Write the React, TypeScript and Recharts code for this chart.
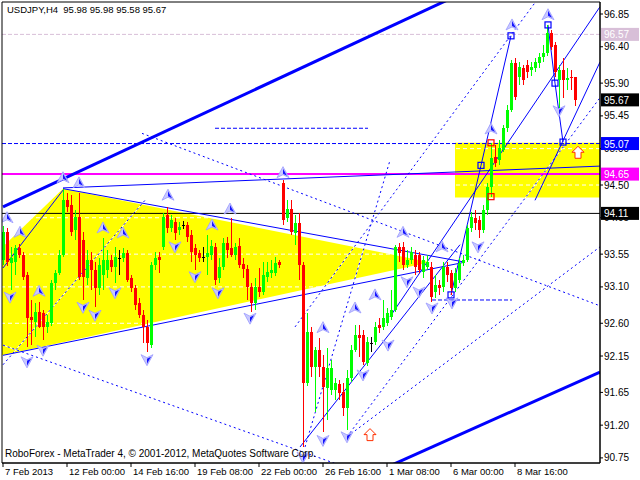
import React from "react";
import {
  ComposedChart,
  Bar,
  Area,
  Scatter,
  XAxis,
  YAxis,
  ReferenceLine,
  ReferenceArea
} from "recharts";

// H4 candles, 7 Feb - 11 Mar 2013
const opens = [
  93.47, 93.85, 93.43, 93.44, 93.63, 93.54, 93.26, 92.69, 92.62, 92.76,
  92.74, 92.55, 92.6, 93.15, 93.29, 93.54, 94.29, 94.23, 93.88, 94.06,
  93.74, 93.22, 93.47, 93.33, 93.09, 93.26, 93.33, 93.47, 93.38, 93.5,
  93.5, 93.57, 93.22, 93.09, 92.88, 92.72, 92.55, 92.3, 93.4, 93.51,
  93.65, 94.09, 93.91, 93.99, 93.88, 93.95, 93.95, 93.81, 93.63, 93.57,
  93.51, 93.51, 93.54, 93.65, 93.22, 93.38, 93.7, 93.63, 93.54, 93.66,
  93.42, 93.35, 93.1, 92.88, 93.1, 93.03, 93.24, 93.29, 93.29, 93.44,
  94.53, 94.05, 94.17, 93.84, 93.98, 93.4, 91.78, 92.48, 92.0, 92.23,
  92.0, 91.71, 91.68, 91.68, 91.77, 91.66, 91.44, 91.85, 92.23, 92.44,
  92.44, 92.06, 92.33, 92.34, 92.58, 92.55, 92.6, 92.69, 92.78, 93.65,
  93.65, 93.4, 93.47, 93.54, 93.54, 93.31, 93.38, 93.38, 93.03, 93.13,
  93.1, 93.38, 93.29, 93.09, 93.19, 93.43, 93.47, 93.91, 94.05, 94.02,
  93.88, 94.16, 94.47, 94.89, 94.84, 94.98, 95.28, 95.53, 96.18, 95.98,
  96.11, 96.15, 96.08, 96.11, 96.18, 96.26, 96.31, 96.59, 96.42, 95.94,
  96.08, 95.94, 95.98, 95.98
];
const highs = [
  93.94, 93.91, 93.65, 93.68, 93.69, 93.58, 93.31, 92.92, 92.88, 92.89,
  92.78, 92.72, 93.19, 93.33, 93.61, 94.45, 94.39, 94.36, 94.16, 94.39,
  93.85, 93.61, 93.58, 93.44, 93.5, 93.77, 93.61, 93.54, 93.65, 93.61,
  93.63, 93.61, 93.26, 93.13, 92.95, 92.78, 92.65, 93.44, 93.58, 93.58,
  94.12, 94.2, 94.09, 94.05, 93.99, 94.01, 93.99, 93.88, 93.69, 93.61,
  93.65, 93.81, 93.74, 93.7, 93.5, 93.77, 93.79, 94.05, 93.7, 93.77,
  93.5, 93.4, 93.15, 93.22, 93.36, 93.44, 93.44, 93.47, 93.51, 93.47,
  94.57, 94.29, 94.29, 94.09, 94.12, 93.44, 92.74, 92.55, 92.27, 92.4,
  92.17, 92.26, 92.1, 91.85, 91.82, 91.78, 91.96, 92.3, 92.58, 92.58,
  92.51, 92.41, 92.41, 92.62, 92.67, 92.92, 92.81, 93.06, 93.68, 93.7,
  93.72, 93.61, 93.65, 93.61, 93.58, 93.53, 93.54, 93.44, 93.26, 93.19,
  93.44, 93.44, 93.33, 93.36, 93.5, 93.54, 93.95, 94.13, 94.16, 94.07,
  94.23, 94.53, 95.08, 95.05, 95.12, 95.32, 95.6, 96.22, 96.25, 96.19,
  96.15, 96.22, 96.19, 96.25, 96.31, 96.42, 96.7, 96.63, 96.47, 96.15,
  96.25, 96.11, 96.08, 95.98
];
const lows = [
  93.4, 93.39, 93.06, 93.26, 93.5, 93.19, 92.27, 92.3, 92.41, 92.54,
  92.37, 92.46, 92.56, 93.06, 93.26, 93.51, 94.13, 93.8, 93.74, 93.19,
  92.92, 93.13, 93.06, 92.82, 92.99, 93.06, 93.22, 93.31, 93.15, 93.26,
  93.44, 93.17, 93.03, 92.78, 92.67, 92.33, 92.21, 92.26, 93.33, 93.29,
  93.61, 93.84, 93.85, 93.74, 93.81, 93.9, 93.72, 93.44, 93.33, 93.44,
  93.44, 93.26, 93.47, 93.13, 93.15, 93.33, 93.5, 93.51, 93.47, 93.36,
  93.22, 92.92, 92.76, 92.78, 92.96, 92.99, 93.17, 93.22, 93.25, 93.36,
  93.95, 93.99, 93.81, 93.68, 93.19, 90.9, 91.74, 91.86, 91.38, 91.86,
  91.11, 91.27, 91.62, 91.55, 91.55, 91.33, 91.13, 91.79, 92.21, 92.14,
  92.03, 92.01, 92.21, 92.3, 92.47, 92.51, 92.56, 92.65, 92.76, 93.44,
  93.33, 93.36, 93.42, 93.26, 93.29, 93.22, 93.33, 92.89, 92.95, 92.99,
  93.03, 93.17, 92.99, 93.03, 93.15, 93.39, 93.44, 93.85, 93.88, 93.77,
  93.84, 94.09, 94.34, 94.75, 94.78, 94.95, 95.23, 95.5, 95.67, 95.87,
  95.87, 95.97, 96.0, 96.05, 96.11, 96.19, 96.27, 96.35, 95.98, 95.56,
  95.7, 95.81, 95.81, 95.58
];
const closes = [
  93.85, 93.44, 93.5, 93.63, 93.54, 93.24, 92.67, 92.65, 92.76, 92.55,
  92.55, 92.62, 93.15, 93.29, 93.54, 94.29, 94.2, 93.85, 94.06, 93.24,
  93.24, 93.47, 93.33, 93.09, 93.4, 93.47, 93.47, 93.38, 93.51, 93.5,
  93.57, 93.19, 93.09, 92.85, 92.72, 92.55, 92.33, 93.4, 93.5, 93.47,
  94.06, 93.91, 94.02, 93.84, 93.92, 93.95, 93.79, 93.58, 93.54, 93.5,
  93.51, 93.57, 93.66, 93.19, 93.38, 93.7, 93.61, 93.54, 93.65, 93.4,
  93.35, 93.1, 92.88, 93.1, 93.03, 93.26, 93.31, 93.33, 93.43, 93.4,
  94.02, 94.17, 93.85, 93.98, 93.4, 91.78, 92.48, 92.0, 92.23, 92.0,
  91.73, 91.99, 91.99, 91.78, 91.64, 91.44, 91.85, 92.23, 92.44, 92.4,
  92.07, 92.34, 92.33, 92.55, 92.54, 92.67, 92.74, 92.78, 93.65, 93.57,
  93.4, 93.47, 93.58, 93.38, 93.33, 93.47, 93.44, 92.96, 93.13, 93.09,
  93.38, 93.26, 93.09, 93.29, 93.43, 93.47, 93.91, 94.06, 93.98, 93.88,
  94.16, 94.47, 94.87, 94.8, 95.01, 95.28, 95.53, 96.18, 95.71, 96.12,
  95.94, 96.05, 96.12, 96.19, 96.26, 96.31, 96.59, 96.4, 96.05, 96.08,
  95.94, 95.97, 95.97, 95.67
];

const xTicks = [0, 16, 32, 48, 64, 80, 96, 112, 128];
const xTickLabels = [
  "7 Feb 2013", "12 Feb 00:00", "14 Feb 16:00", "19 Feb 08:00", "22 Feb 00:00",
  "26 Feb 16:00", "1 Mar 08:00", "6 Mar 00:00", "8 Mar 16:00"
];
const yTicks = [96.85, 96.4, 95.9, 95.45, 95.0, 94.5, 94.05, 93.55, 93.1, 92.6, 92.15, 91.65, 91.2, 90.75];

// horizontal levels drawn on the chart
const levels = [
  { price: 96.57, color: "#d8bfd8", dash: "4 2", width: 1 },
  { price: 95.07, color: "#0000ff", dash: "4 2", width: 1 },
  { price: 94.65, color: "#ff00ff", dash: undefined, width: 2 },
  { price: 94.11, color: "#000000", dash: undefined, width: 1 }
];
const priceTags = [
  { price: 96.57, bg: "#d8bfd8" },
  { price: 95.67, bg: "#000000" },
  { price: 95.07, bg: "#0000ff" },
  { price: 94.65, bg: "#ff00ff" },
  { price: 94.11, bg: "#000000" }
];

// trend lines [t1, p1, t2, p2]
const thickLines = [
  [0, 94.2, 120, 97.27],
  [94.25, 90.58, 149.25, 91.93]
];
const solidLines = [
  [0, 93.36, 15, 94.43],
  [15, 94.45, 115.5, 93.44],
  [0, 92.16, 115.5, 93.44],
  [15, 94.46, 149.25, 94.76],
  [112, 92.99, 119.5, 94.77],
  [119.5, 94.77, 127, 96.55],
  [136.25, 96.7, 138, 95.9],
  [138, 95.9, 140, 95.09],
  [96.75, 92.69, 149.25, 96.95],
  [133, 94.29, 149.25, 96.19],
  [74.25, 90.9, 114.25, 93.68]
];
const dashLines = [
  [53, 95.28, 91.25, 95.28],
  [107.25, 92.92, 127.25, 92.92]
];
const dotLines = [
  [34.75, 95.21, 149.25, 92.84],
  [0, 92.3, 84.25, 90.65],
  [0, 92.03, 35.5, 94.29],
  [86, 91.04, 149.25, 95.7],
  [86, 91.04, 149.25, 93.65],
  [73, 92.55, 135.35, 97.18],
  [75.5, 90.9, 96.75, 94.84]
];

// yellow triangle (left vertex lies off the chart) and rectangle
const triangleT = [-36, 15, 106.75];
const triangleLow = [91.74, 92.34, 93.44];
const triangleHigh = [91.74, 94.45, 93.44];
const boxT = [113, 149.25];
const boxP = [94.33, 95.08];

// fractal arrows and marks [t, p]
const upArrows = [
  [1, 94.05], [4.25, 93.85], [9, 93.04], [15, 94.6], [19, 94.53], [25, 93.91],
  [30, 93.84], [41.25, 94.36], [52.25, 93.95], [56.75, 94.17], [70, 94.67],
  [80, 92.54], [88, 92.81], [93, 92.99], [100, 93.85], [109.75, 93.65],
  [122, 95.27], [127.25, 96.7], [136.25, 96.84]
];
const downArrows = [
  [1.75, 92.96], [6, 92.07], [10, 92.23], [20, 92.82], [23, 92.71], [28, 93.02],
  [36, 92.1], [43, 93.65], [48, 93.24], [53.75, 93.02], [61.75, 92.67],
  [75, 90.76], [80, 90.99], [86, 91.04], [90, 91.89], [96.25, 92.3],
  [101, 93.17], [104, 93.03], [107.25, 92.81], [112.25, 92.88], [118.75, 93.65],
  [139, 95.52]
];
const hollowArrows = [[91.75, 91.07], [143.75, 94.95]];
const blueBoxes = [[112, 92.99], [119.5, 94.77], [127, 96.55], [136.25, 96.7], [138, 95.9], [140, 95.09]];
const redBoxes = [[122, 95.08], [122, 94.34]];

const FONT = "'Liberation Sans', Arial, sans-serif";

const candles = opens.map((o, i) => ({
  t: i,
  o,
  h: highs[i],
  l: lows[i],
  c: closes[i],
  range: [lows[i], highs[i]]
}));
const triangle = triangleT.map((t, i) => ({ t, band: [triangleLow[i], triangleHigh[i]] }));
const toPts = (arr: number[][]) => arr.map(([t, p]) => ({ t, p }));

const Candle = (props: any) => {
  const { x, y, width, height, payload } = props;
  const { o, h, l, c } = payload;
  const top0 = Math.min(y, y + height);
  const hgt = Math.abs(height);
  const span = h - l || 1;
  const yAt = (v: number) => top0 + ((h - v) / span) * hgt;
  const color = c > o ? "#00ff00" : c < o ? "#ff0000" : "#000000";
  const cx = Math.round(x + width / 2);
  const bTop = Math.round(yAt(Math.max(o, c)));
  const bBot = Math.round(yAt(Math.min(o, c)));
  return (
    <g shapeRendering="crispEdges">
      <line x1={cx + 0.5} x2={cx + 0.5} y1={top0} y2={top0 + hgt} stroke={color} />
      <rect x={cx - 1} y={bTop} width={3} height={Math.max(bBot - bTop, 1)} fill={color} />
    </g>
  );
};

// MT4 fractal arrow heads
const UpArrow = ({ cx, cy }: any) => (
  <g>
    <polygon
      points={`${cx},${cy - 6} ${cx + 6},${cy + 5} ${cx},${cy + 2} ${cx - 6},${cy + 5}`}
      fill="#c8c8ff"
      stroke="#9a9aff"
      strokeWidth={0.8}
    />
    <polygon points={`${cx},${cy - 4} ${cx + 4},${cy + 3} ${cx},${cy + 1}`} fill="#1414ff" />
  </g>
);
const DownArrow = ({ cx, cy }: any) => (
  <g>
    <polygon
      points={`${cx},${cy + 6} ${cx + 6},${cy - 5} ${cx},${cy - 2} ${cx - 6},${cy - 5}`}
      fill="#c8c8ff"
      stroke="#9a9aff"
      strokeWidth={0.8}
    />
    <polygon points={`${cx},${cy + 4} ${cx + 4},${cy - 3} ${cx},${cy - 1}`} fill="#1414ff" />
  </g>
);
const HollowArrow = ({ cx, cy }: any) => (
  <polygon
    points={`${cx},${cy - 6} ${cx + 6},${cy} ${cx + 3},${cy} ${cx + 3},${cy + 6} ${cx - 3},${cy + 6} ${cx - 3},${cy} ${cx - 6},${cy}`}
    fill="#ffffff"
    stroke="#ff3000"
    strokeWidth={1}
  />
);
const Box = (color: string) => ({ cx, cy }: any) => (
  <rect x={cx - 3} y={cy - 3} width={6} height={6} fill="none" stroke={color} strokeWidth={1.2} />
);

const XTick = ({ x, y, payload }: any) => {
  const idx = xTicks.indexOf(payload.value);
  return (
    <text x={x + 2} y={y + 8} fontSize={9.5} fontFamily={FONT} fill="#000">
      {xTickLabels[idx]}
    </text>
  );
};

const Tag = (bg: string, price: number) => (props: any) => {
  const vb = props.viewBox || {};
  const right = (vb.x || 0) + (vb.width || 0);
  const yy = vb.y || 0;
  return (
    <g>
      <rect x={right + 1} y={yy - 6.5} width={38} height={13} fill={bg} />
      <text x={right + 4} y={yy + 4} fontSize={10} fontFamily={FONT} fill="#fff">
        {price.toFixed(2)}
      </text>
    </g>
  );
};

// dashed objects in MT4 paint their gaps with the background colour
const dashed = (lines: number[][], key: string, dash: string) =>
  lines.flatMap(([t1, p1, t2, p2], i) => [
    <ReferenceLine
      key={key + "u" + i}
      segment={[{ x: t1, y: p1 }, { x: t2, y: p2 }]}
      stroke="#ffffff"
      ifOverflow="hidden"
      zIndex={-41}
    />,
    <ReferenceLine
      key={key + i}
      segment={[{ x: t1, y: p1 }, { x: t2, y: p2 }]}
      stroke="#0000ff"
      strokeDasharray={dash}
      ifOverflow="hidden"
      zIndex={-40}
    />
  ]);

export default function App() {
  return (
    <div style={{ position: "absolute", left: 0, top: 0, width: 640, height: 480, background: "#fff" }}>
      <ComposedChart
        width={640}
        height={480}
        data={candles}
        margin={{ top: 2, right: 0, bottom: 0, left: 2 }}
      >
        <XAxis
          dataKey="t"
          type="number"
          domain={[-0.25, 149.25]}
          allowDataOverflow
          ticks={xTicks}
          tick={<XTick />}
          tickSize={4}
          tickMargin={0}
          height={17}
          stroke="#000"
          interval={0}
        />
        <YAxis
          orientation="right"
          type="number"
          domain={[90.68, 97.015]}
          allowDataOverflow
          ticks={yTicks}
          interval={0}
          width={40}
          tickSize={3}
          tickMargin={1}
          stroke="#000"
          tickFormatter={(v: number) => v.toFixed(2)}
          tick={{ fontSize: 10, fill: "#000", fontFamily: FONT }}
        />

        <ReferenceArea
          x1={boxT[0]}
          x2={boxT[1]}
          y1={boxP[0]}
          y2={boxP[1]}
          fill="#ffff00"
          fillOpacity={1}
          stroke="none"
          ifOverflow="hidden"
          zIndex={-60}
        />
        <Area
          data={triangle}
          dataKey="band"
          type="linear"
          fill="#ffff00"
          fillOpacity={1}
          stroke="none"
          isAnimationActive={false}
          zIndex={-55}
        />
        {yTicks.map((v) => (
          <ReferenceLine key={"g" + v} y={v} stroke="#ffffff" strokeDasharray="4 3" ifOverflow="hidden" zIndex={-50} />
        ))}

        {levels.map((lv) => (
          <ReferenceLine
            key={"lv" + lv.price}
            y={lv.price}
            stroke={lv.color}
            strokeWidth={lv.width}
            strokeDasharray={lv.dash}
            ifOverflow="hidden"
            zIndex={-40}
          />
        ))}
        {thickLines.map(([t1, p1, t2, p2], i) => (
          <ReferenceLine
            key={"tk" + i}
            segment={[{ x: t1, y: p1 }, { x: t2, y: p2 }]}
            stroke="#0000ff"
            strokeWidth={3}
            ifOverflow="hidden"
            zIndex={-40}
          />
        ))}
        {solidLines.map(([t1, p1, t2, p2], i) => (
          <ReferenceLine
            key={"sl" + i}
            segment={[{ x: t1, y: p1 }, { x: t2, y: p2 }]}
            stroke="#0000ff"
            strokeWidth={1}
            ifOverflow="hidden"
            zIndex={-40}
          />
        ))}
        {dashed(dashLines, "dl", "4 2")}
        {dashed(dotLines, "dt", "2 3")}

        <Bar dataKey="range" barSize={3} shape={Candle} isAnimationActive={false} zIndex={300} />

        <Scatter data={toPts(upArrows)} dataKey="p" shape={UpArrow} isAnimationActive={false} zIndex={600} />
        <Scatter data={toPts(downArrows)} dataKey="p" shape={DownArrow} isAnimationActive={false} zIndex={600} />
        <Scatter data={toPts(hollowArrows)} dataKey="p" shape={HollowArrow} isAnimationActive={false} zIndex={600} />
        <Scatter data={toPts(blueBoxes)} dataKey="p" shape={Box("#0000ff")} isAnimationActive={false} zIndex={600} />
        <Scatter data={toPts(redBoxes)} dataKey="p" shape={Box("#ff0000")} isAnimationActive={false} zIndex={600} />

        <ReferenceArea
          x1={-0.25}
          x2={149.25}
          y1={90.68}
          y2={97.015}
          fill="none"
          stroke="#000"
          ifOverflow="visible"
          zIndex={700}
        />
        {priceTags.map((tg) => (
          <ReferenceLine
            key={"tag" + tg.price}
            y={tg.price}
            stroke="none"
            ifOverflow="visible"
            label={{ content: Tag(tg.bg, tg.price) }}
            zIndex={2000}
          />
        ))}
      </ComposedChart>
      <div
        style={{ position: "absolute", left: 7, top: 4, fontSize: 9.5, fontFamily: FONT, color: "#000", whiteSpace: "pre" }}
      >
        {"USDJPY,H4  95.98 95.98 95.58 95.67"}
      </div>
      <div
        style={{ position: "absolute", left: 5, top: 448, fontSize: 10, fontFamily: FONT, color: "#000", whiteSpace: "pre" }}
      >
        {"RoboForex - MetaTrader 4, \u00a9 2001-2012, MetaQuotes Software Corp."}
      </div>
    </div>
  );
}
